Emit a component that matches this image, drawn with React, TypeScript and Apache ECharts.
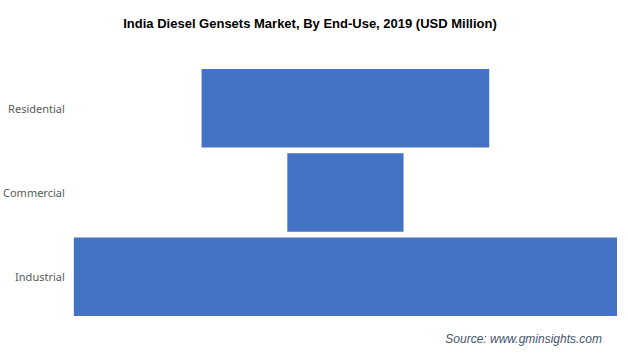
import React, { useEffect, useRef } from "react";
import * as echarts from "echarts";

const categories = ["Residential", "Commercial", "Industrial"];
const values = [1250, 505, 2360];
const titleText = "India Diesel Gensets Market, By End-Use, 2019 (USD Million)";
const sourceText = "Source: www.gminsights.com";

export default function App() {
  const ref = useRef<HTMLDivElement>(null);
  useEffect(() => {
    document.body.style.margin = "0";
    const chart = echarts.init(ref.current!, null, { renderer: "svg" });
    const maxVal = Math.max(...values);
    const offsets = values.map((v) => (maxVal - v) / 2);
    chart.setOption({
      animation: false,
      title: {
        text: titleText,
        left: 305,
        textAlign: "center",
        top: 12,
        textStyle: { fontFamily: "Liberation Sans, Arial", fontSize: 13, fontWeight: "bold", color: "#000" },
      },
      graphic: [
        {
          type: "text",
          right: 26,
          top: 333,
          style: {
            text: sourceText,
            font: "italic 12px 'Liberation Sans', Arial",
            fill: "#44546a",
          },
        },
      ],
      grid: { left: 73, right: 11, top: 66, bottom: 37, containLabel: false },
      xAxis: { type: "value", min: 0, max: maxVal, show: false },
      yAxis: {
        type: "category",
        data: categories,
        inverse: true,
        axisLine: { show: false },
        axisTick: { show: false },
        axisLabel: { color: "#595959", fontSize: 11, fontFamily: "Noto Sans", margin: 9 },
      },
      series: [
        {
          type: "bar",
          stack: "s",
          data: offsets,
          itemStyle: { color: "transparent" },
          barCategoryGap: "7%",
          silent: true,
        },
        {
          type: "bar",
          stack: "s",
          data: values,
          itemStyle: { color: "#4472c4" },
          barCategoryGap: "7%",
        },
      ],
    });
    return () => chart.dispose();
  }, []);
  return <div ref={ref} style={{ width: 628, height: 356 }} />;
}
